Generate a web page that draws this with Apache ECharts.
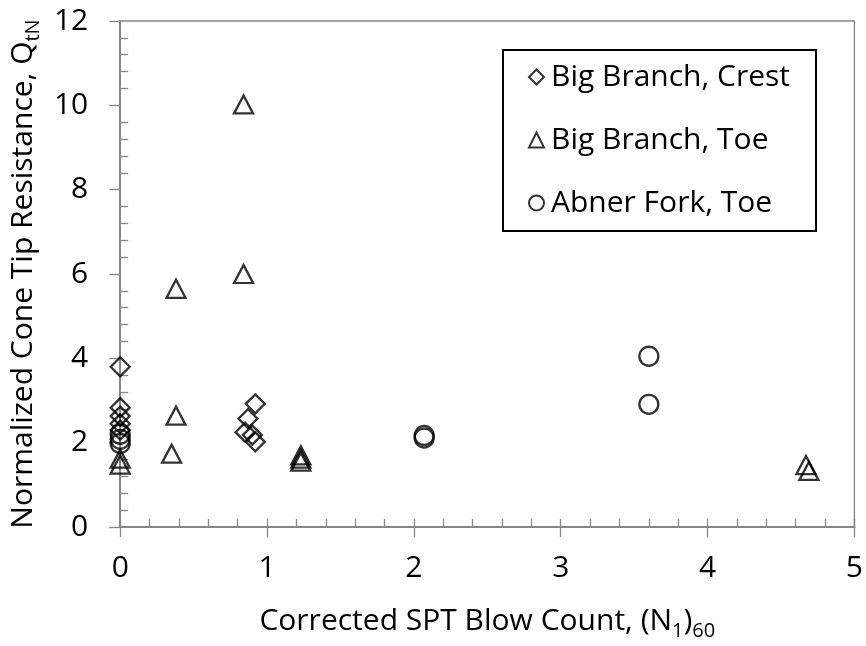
<!DOCTYPE html>
<html>
<head>
<meta charset="utf-8">
<script src="https://cdn.jsdelivr.net/npm/echarts@6/dist/echarts.min.js"></script>
<style>
html,body{margin:0;padding:0;background:#fff;}
#chart{width:866px;height:646px;}
</style>
</head>
<body>
<div id="chart"></div>
<script>
// ---- data ----
var seriesNames = ['Big Branch, Crest', 'Big Branch, Toe', 'Abner Fork, Toe'];
var crestX = [0, 0, 0, 0, 0, 0.92, 0.87, 0.85, 0.90, 0.92];
var crestY = [3.80, 2.83, 2.63, 2.45, 2.30, 2.92, 2.57, 2.25, 2.18, 2.02];
var toeX = [0, 0, 0.35, 0.38, 0.38, 0.84, 0.84, 1.23, 1.23, 1.23, 4.67, 4.69];
var toeY = [1.62, 1.48, 1.74, 2.64, 5.65, 10.02, 6.00, 1.70, 1.62, 1.55, 1.47, 1.33];
var abnerX = [0, 0, 0, 2.07, 2.07, 3.60, 3.60];
var abnerY = [2.20, 2.08, 1.98, 2.17, 2.11, 4.05, 2.91];
var xTicks = [0, 1, 2, 3, 4, 5];
var yTicks = [0, 2, 4, 6, 8, 10, 12];

function pairs(xs, ys) { return xs.map(function (x, i) { return [x, ys[i]]; }); }

var FONT = '"Open Sans", sans-serif';
var GRAY = '#868686';
var chart = echarts.init(document.getElementById('chart'), null, {renderer: 'canvas'});

var markerStyle = {color: 'rgba(0,0,0,0)', borderColor: '#000', borderWidth: 2.3};

var option = {
  backgroundColor: '#fff',
  animation: false,
  textStyle: {fontFamily: FONT},
  grid: {left: 120, right: 9, top: 21, bottom: 117, show: true, borderColor: GRAY, borderWidth: 1.3, backgroundColor: 'transparent'},
  graphic: [{
    type: 'rect', z: 1, left: 502, top: 49,
    shape: {width: 313, height: 181},
    style: {fill: '#fff', stroke: '#000', lineWidth: 2}
  }],
  legend: {
    orient: 'vertical', left: 528, top: 62, z: 10,
    padding: 0, itemGap: 33, itemWidth: 15, itemHeight: 15,
    data: seriesNames,
    textStyle: {fontFamily: FONT, fontSize: 30, color: '#000', lineHeight: 30, padding: [0, 0, 0, 2]}
  },
  xAxis: [{
    type: 'value', min: xTicks[0], max: xTicks[xTicks.length - 1], interval: 1,
    position: 'bottom',
    axisLine: {show: true, onZero: false, lineStyle: {color: GRAY, width: 2}},
    axisTick: {show: true, inside: false, length: 10, lineStyle: {color: GRAY, width: 1.3}},
    minorTick: {show: false},
    splitLine: {show: false},
    axisLabel: {fontFamily: FONT, fontSize: 30, color: '#000', margin: 26},
    name: '{a|Corrected SPT Blow Count, (N}{s|1}{a|)}{s|60}',
    nameLocation: 'middle', nameGap: 74,
    nameTextStyle: {
      rich: {
        a: {fontFamily: FONT, fontSize: 30, color: '#000', lineHeight: 40, verticalAlign: 'middle'},
        s: {fontFamily: FONT, fontSize: 20, color: '#000', lineHeight: 14, verticalAlign: 'bottom'}
      }
    }
  }, {
    type: 'value', min: xTicks[0], max: xTicks[xTicks.length - 1], interval: 1,
    position: 'bottom', offset: 0,
    axisLine: {show: false},
    axisTick: {show: true, inside: true, length: 8, lineStyle: {color: GRAY, width: 1.3}},
    minorTick: {show: true, splitNumber: 5, length: 8, lineStyle: {color: GRAY, width: 1.3}},
    splitLine: {show: false},
    axisLabel: {show: false}
  }],
  yAxis: [{
    type: 'value', min: yTicks[0], max: yTicks[yTicks.length - 1], interval: 2,
    position: 'left',
    axisLine: {show: true, onZero: false, lineStyle: {color: GRAY, width: 2}},
    axisTick: {show: true, inside: false, length: 11, lineStyle: {color: GRAY, width: 1.3}},
    minorTick: {show: false},
    splitLine: {show: false},
    axisLabel: {fontFamily: FONT, fontSize: 30, color: '#000', margin: 32},
    name: '{a|Normalized Cone Tip Resistance, Q}{s|tN}',
    nameLocation: 'middle', nameGap: 68,
    nameTextStyle: {
      rich: {
        a: {fontFamily: FONT, fontSize: 30, color: '#000', lineHeight: 40, verticalAlign: 'middle'},
        s: {fontFamily: FONT, fontSize: 20, color: '#000', lineHeight: 14, verticalAlign: 'bottom'}
      }
    }
  }, {
    type: 'value', min: yTicks[0], max: yTicks[yTicks.length - 1], interval: 2,
    position: 'left', offset: 0,
    axisLine: {show: false},
    axisTick: {show: false, inside: true, length: 8},
    minorTick: {show: true, splitNumber: 5, length: 8, lineStyle: {color: GRAY, width: 1.3}},
    splitLine: {show: false},
    axisLabel: {show: false}
  }],
  series: [{
    name: seriesNames[0], type: 'scatter', xAxisIndex: 0, yAxisIndex: 0,
    symbol: 'diamond', symbolSize: 19, itemStyle: markerStyle,
    data: pairs(crestX, crestY), z: 5
  }, {
    name: seriesNames[1], type: 'scatter', xAxisIndex: 0, yAxisIndex: 0,
    symbol: 'triangle', symbolSize: [19, 18], itemStyle: markerStyle,
    data: pairs(toeX, toeY), z: 5
  }, {
    name: seriesNames[2], type: 'scatter', xAxisIndex: 0, yAxisIndex: 0,
    symbol: 'circle', symbolSize: 19, itemStyle: markerStyle,
    data: pairs(abnerX, abnerY), z: 5
  }]
};
chart.setOption(option);
</script>
</body>
</html>
